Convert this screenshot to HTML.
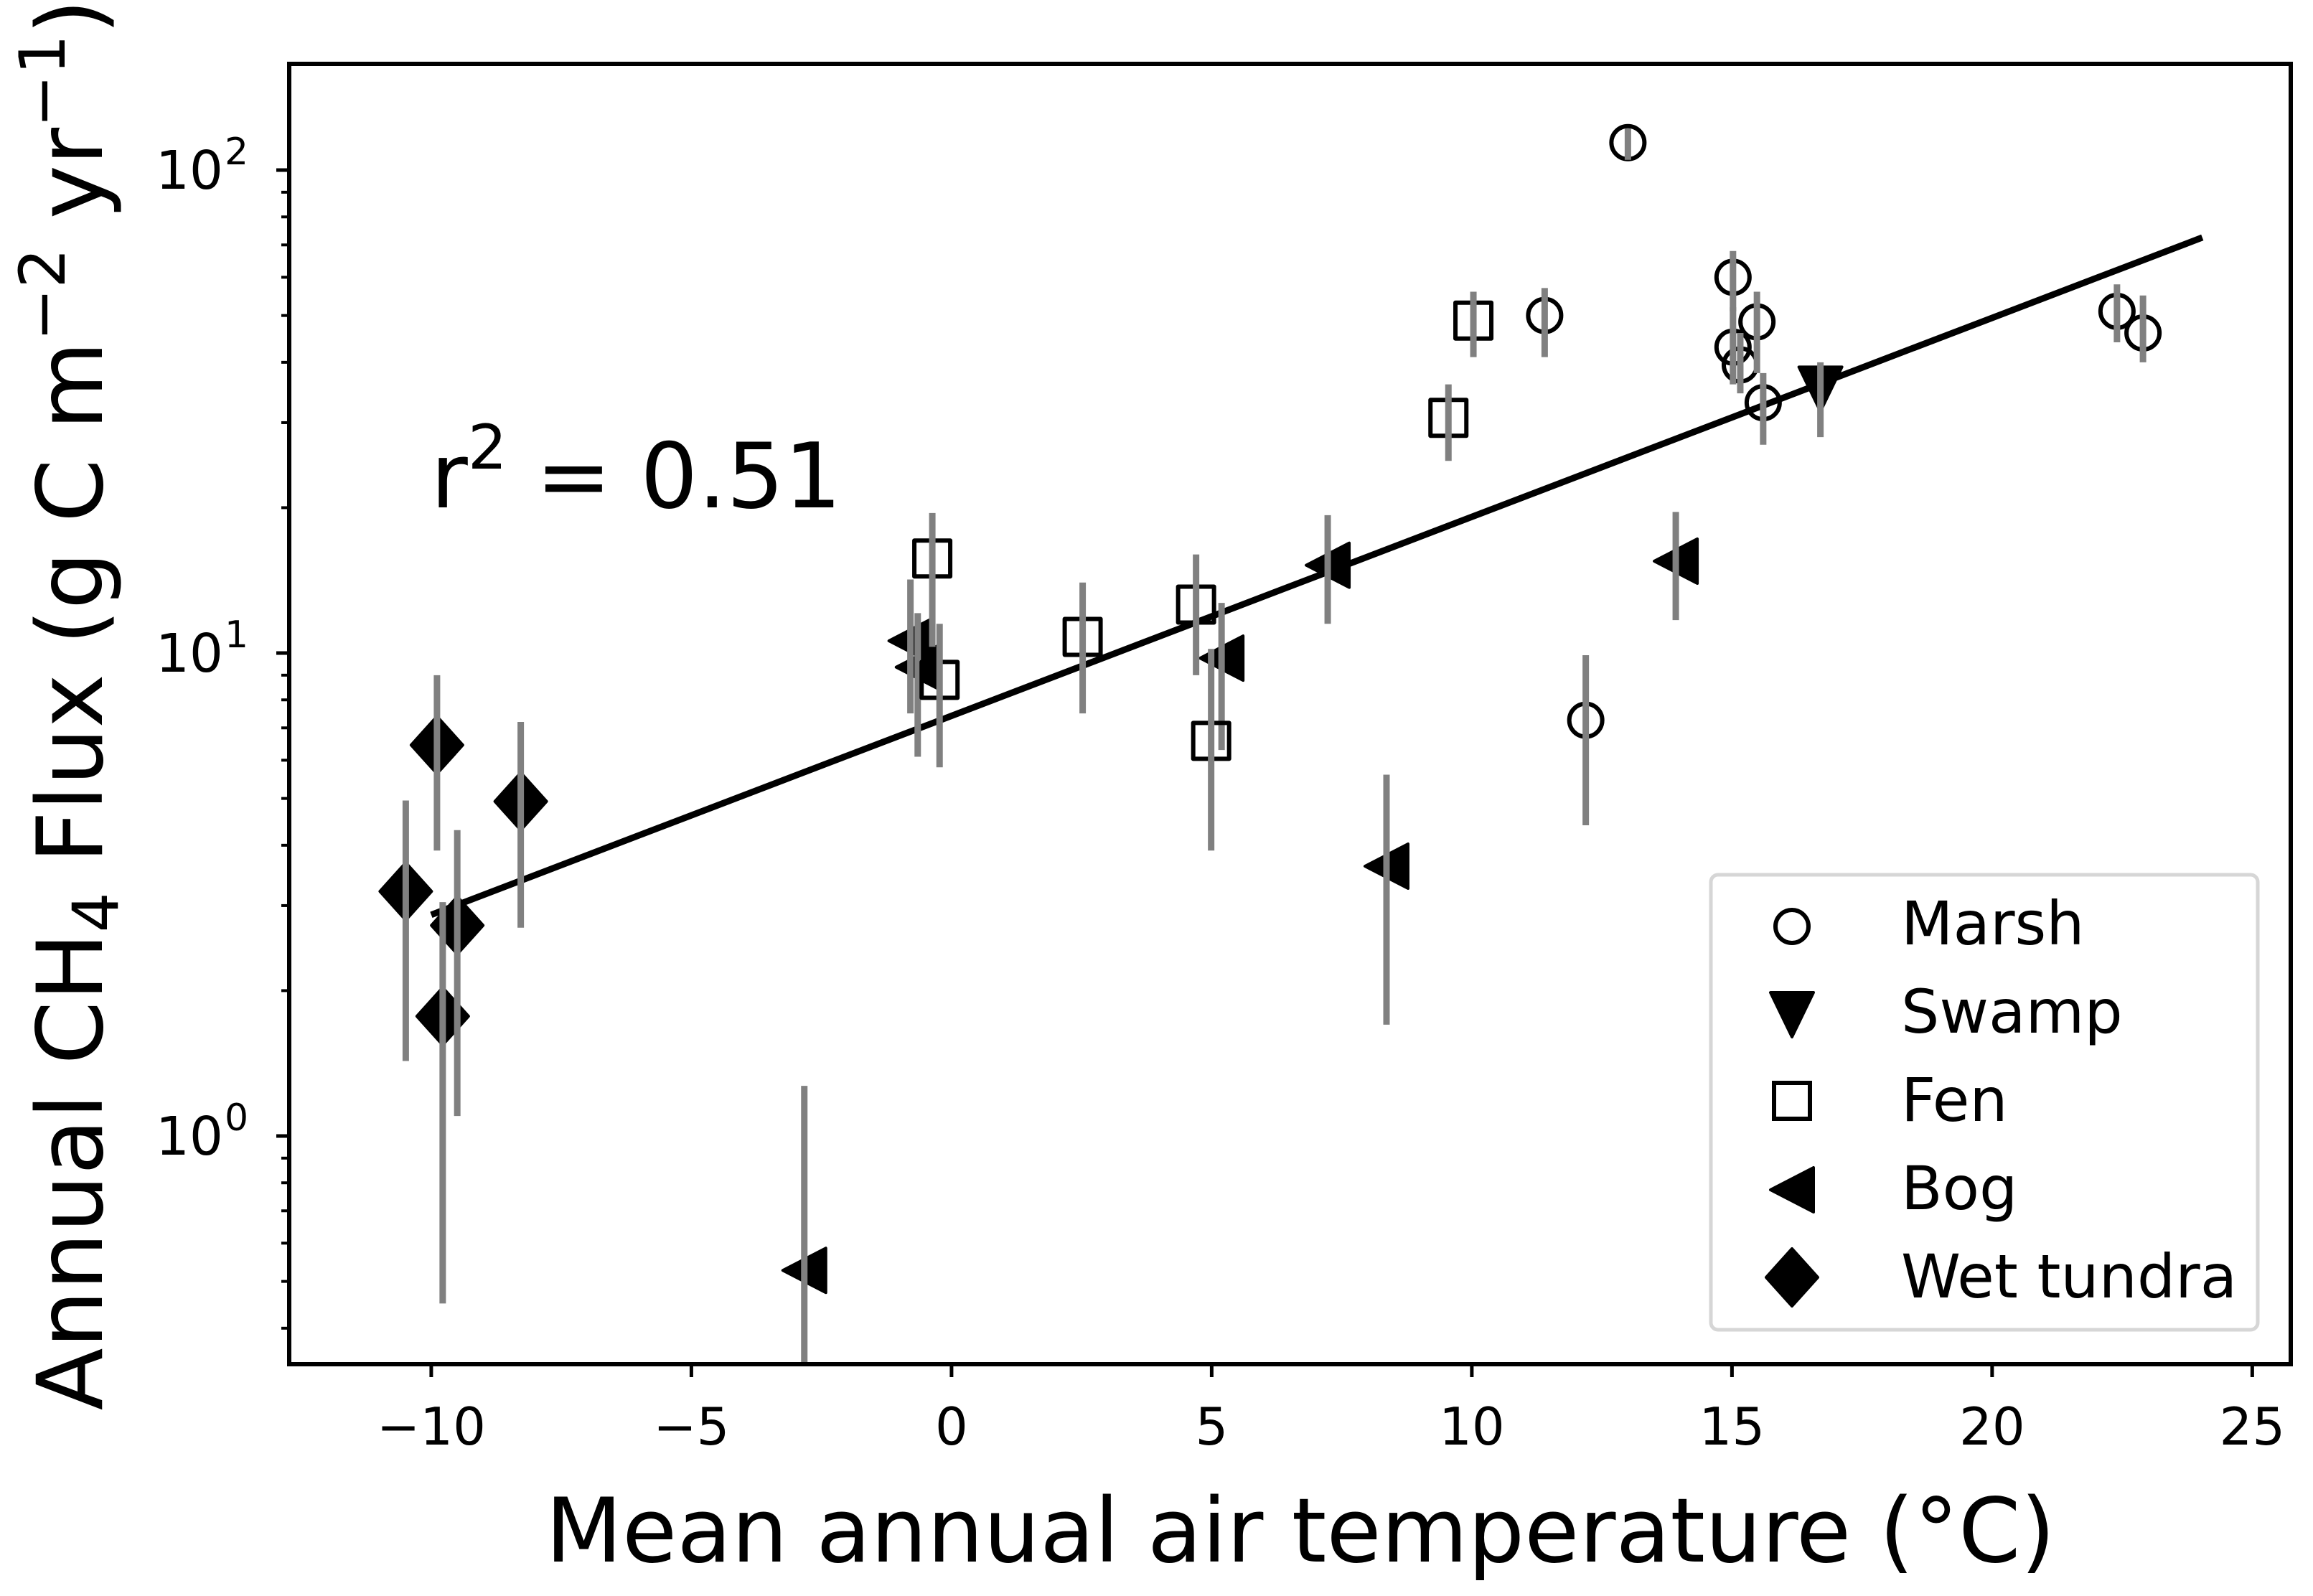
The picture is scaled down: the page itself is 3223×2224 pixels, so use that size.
<!DOCTYPE html>
<html><head><meta charset="utf-8"><style>
html,body{margin:0;padding:0;background:#fff;}
svg{display:block;font-family:"DejaVu Sans","Liberation Sans",sans-serif;}
</style></head><body>
<svg id="chart" width="3223" height="2224" viewBox="0 0 3223 2224" xmlns="http://www.w3.org/2000/svg">
<rect x="0" y="0" width="3223" height="2224" fill="#fff"/>
<g id="marks"></g>
<g id="axes"></g>
</svg>
<script>
// ---- data ----
const marshX = [13.0, 11.4, 15.02, 15.48, 15.02, 15.16, 15.6, 12.19, 22.4, 22.9];
const marshY = [114, 50, 60, 48.5, 43, 39.5, 33, 7.26, 51, 46];
const marshLo = [105, 41, 51, 38, 36, 34.5, 27, 4.4, 44, 40];
const marshHi = [122, 57, 68, 56, 52, 46, 38, 9.9, 58, 55];
const swampX = [16.7];
const swampY = [35.3];
const swampLo = [28];
const swampHi = [40];
const fenX = [10.03, 9.55, -0.37, -0.23, 2.52, 4.7, 4.99];
const fenY = [48.8, 30.7, 15.7, 8.8, 10.8, 12.6, 6.58];
const fenLo = [41, 25, 10.3, 5.8, 7.5, 9.0, 3.9];
const fenHi = [56, 36, 19.5, 11.5, 14, 16, 10.2];
const bogX = [7.23, 13.92, 5.19, 8.36, -2.83, -0.79, -0.65];
const bogY = [15.2, 15.5, 9.76, 3.62, 0.527, 10.6, 9.35];
const bogLo = [11.5, 11.7, 6.3, 1.7, 0.33, 7.5, 6.1];
const bogHi = [19.3, 19.6, 12.7, 5.6, 1.27, 14.2, 12.1];
const tundraX = [-9.89, -8.28, -10.49, -9.5, -9.78];
const tundraY = [6.45, 4.93, 3.21, 2.73, 1.77];
const tundraLo = [3.9, 2.7, 1.43, 1.1, 0.45];
const tundraHi = [9.0, 7.2, 4.95, 4.3, 3.05];
const fitSlope = 0.0412;      // log10 flux per degree C
const fitIntercept = 0.870;   // log10 flux at 0 C
const fitRange = [-10.0, 24.04];
const xTicks = [-10, -5, 0, 5, 10, 15, 20, 25];
const xTickLabels = ["\u221210", "\u22125", "0", "5", "10", "15", "20", "25"];
const yTicks = [1, 10, 100];
const yTickExp = ["0", "1", "2"];

// ---- axes functions ----
const L = 403, R = 3192, T = 89, B = 1901;
const xMin = -12.73, xMax = 25.74;
const yMinLog = -0.4725, yMaxLog = 2.22;
function sx(v){ return L + (v - xMin) / (xMax - xMin) * (R - L); }
function sy(v){ return B - (Math.log10(v) - yMinLog) / (yMaxLog - yMinLog) * (B - T); }

const NS = "http://www.w3.org/2000/svg";
function mk(tag, attrs, parent){
  const e = document.createElementNS(NS, tag);
  for (const k in attrs) e.setAttribute(k, attrs[k]);
  parent.appendChild(e); return e;
}
const marks = document.getElementById('marks');
const axes = document.getElementById('axes');

const defs = mk('defs', {}, document.getElementById('chart'));
const cp = mk('clipPath', {id:'plotclip'}, defs);
mk('rect', {x:L, y:T, width:R-L, height:B-T}, cp);
marks.setAttribute('clip-path', 'url(#plotclip)');

const fit = mk('line', {x1:sx(fitRange[0]), y1:sy(Math.pow(10, fitIntercept + fitSlope*fitRange[0])), x2:sx(fitRange[1]), y2:sy(Math.pow(10, fitIntercept + fitSlope*fitRange[1])), stroke:'#000', 'stroke-width':9}, marks);



function markerShape(kind, cx, cy, parent){
  let e;
  if (kind === 'marsh'){
    e = mk('circle', {cx:cx, cy:cy, r:23, fill:'none', stroke:'#000', 'stroke-width':6}, parent);
  } else if (kind === 'fen'){
    e = mk('rect', {x:cx-25, y:cy-25, width:50, height:50, fill:'none', stroke:'#000', 'stroke-width':6, 'stroke-linejoin':'round'}, parent);
  } else if (kind === 'swamp'){
    e = mk('path', {d:`M${cx-30},${cy-30} L${cx+30},${cy-30} L${cx},${cy+32} Z`, fill:'#000', stroke:'#000', 'stroke-width':4, 'stroke-linejoin':'round'}, parent);
  } else if (kind === 'bog'){
    e = mk('path', {d:`M${cx-30},${cy} L${cx+30},${cy-31} L${cx+30},${cy+31} Z`, fill:'#000', stroke:'#000', 'stroke-width':4, 'stroke-linejoin':'round'}, parent);
  } else {
    e = mk('path', {d:`M${cx},${cy-40} L${cx+36},${cy} L${cx},${cy+40} L${cx-36},${cy} Z`, fill:'#000', stroke:'#000', 'stroke-width':4, 'stroke-linejoin':'round'}, parent);
  }
  return e;
}

function series(kind, xs, ys, lo, hi){
  const g = mk('g', {}, marks);
  
  
  for (let i = 0; i < xs.length; i++){
    const m = markerShape(kind, sx(xs[i]), sy(ys[i]), g);
    
    
  }
  for (let i = 0; i < xs.length; i++){
    const b = mk('line', {x1:sx(xs[i]), x2:sx(xs[i]), y1:sy(lo[i]), y2:sy(hi[i]), stroke:'#808080', 'stroke-width':9}, g);
    
    
  }
}
series('tundra', tundraX, tundraY, tundraLo, tundraHi);
series('bog', bogX, bogY, bogLo, bogHi);
series('fen', fenX, fenY, fenLo, fenHi);
series('swamp', swampX, swampY, swampLo, swampHi);
series('marsh', marshX, marshY, marshLo, marshHi);

const frame = mk('rect', {x:L, y:T, width:R-L, height:B-T, fill:'none', stroke:'#000', 'stroke-width':6}, axes);



for (let i = 0; i < xTicks.length; i++){
  const x = sx(xTicks[i]);
  const t = mk('line', {x1:x, x2:x, y1:B, y2:B+18, stroke:'#000', 'stroke-width':5}, axes);
  
  
  const lb = mk('text', {x:x, y:B+112, 'text-anchor':'middle', 'font-size':72, fill:'#000'}, axes);
  lb.textContent = xTickLabels[i];
  
  
}
for (let i = 0; i < yTicks.length; i++){
  const y = sy(yTicks[i]);
  const t = mk('line', {x1:L-18, x2:L, y1:y, y2:y, stroke:'#000', 'stroke-width':5}, axes);
  
  
  const lb = mk('text', {x:L-92, y:y+26, 'text-anchor':'end', 'font-size':74, fill:'#000'}, axes);
  
  
  const base = mk('tspan', {}, lb); base.textContent = '10';
  const ex = mk('text', {x:L-90, y:y-8, 'text-anchor':'start', 'font-size':52, fill:'#000'}, axes);
  ex.textContent = yTickExp[i];
  
  
}
for (let d = -1; d <= 2; d++){
  for (let k = 2; k <= 9; k++){
    const v = k * Math.pow(10, d);
    const lv = Math.log10(v);
    if (lv < yMinLog || lv > yMaxLog) continue;
    const y = sy(v);
    const t = mk('line', {x1:L-11, x2:L, y1:y, y2:y, stroke:'#000', 'stroke-width':4}, axes);
    
    
  }
}
</script>
<svg style="position:absolute;left:0;top:0" width="3223" height="2224" viewBox="0 0 3223 2224" xmlns="http://www.w3.org/2000/svg" font-family="DejaVu Sans, Liberation Sans, sans-serif">
<text x="1812" y="2176" text-anchor="middle" font-size="124" fill="#000">Mean annual air temperature (°C)</text>
<text transform="translate(142,982) rotate(-90)" text-anchor="middle" font-size="127" fill="#000">Annual CH<tspan font-size="88" dy="22">4</tspan><tspan dy="-22"> Flux (g C m</tspan><tspan font-size="88" dy="-52">−2</tspan><tspan dy="52"> yr</tspan><tspan font-size="88" dy="-52">−1</tspan><tspan dy="52">)</tspan></text>
<text x="600" y="707" font-size="126" fill="#000">r<tspan font-size="86" dy="-54">2</tspan><tspan dy="54"> = 0.51</tspan></text>
<g>
<rect x="2384" y="1219" width="762" height="634" rx="10" fill="#fff" stroke="#d6d6d6" stroke-width="5"/>
<g><circle cx="2497" cy="1291" r="23" fill="none" stroke="#000" stroke-width="6"/><text x="2649" y="1316" font-size="84">Marsh</text></g>
<g><path d="M2467,1383 L2527,1383 L2497,1445 Z" fill="#000" stroke="#000" stroke-width="4" stroke-linejoin="round"/><text x="2649" y="1439" font-size="84">Swamp</text></g>
<g><rect x="2472" y="1509" width="50" height="50" fill="none" stroke="#000" stroke-width="6"/><text x="2649" y="1562" font-size="84">Fen</text></g>
<g><path d="M2467,1658 L2527,1627 L2527,1689 Z" fill="#000" stroke="#000" stroke-width="4" stroke-linejoin="round"/><text x="2649" y="1685" font-size="84">Bog</text></g>
<g><path d="M2497,1740 L2533,1780 L2497,1820 L2461,1780 Z" fill="#000" stroke="#000" stroke-width="4" stroke-linejoin="round"/><text x="2649" y="1808" font-size="84">Wet tundra</text></g>
</g>
</svg>
</body></html>
